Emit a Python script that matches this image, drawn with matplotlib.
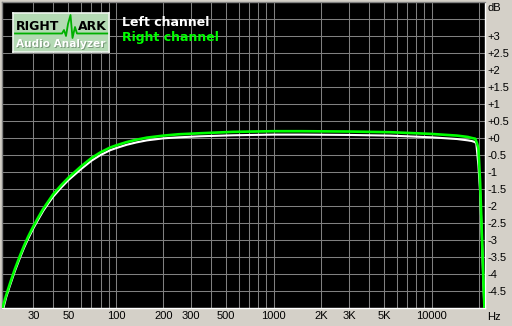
import matplotlib
matplotlib.use("Agg")
import matplotlib.pyplot as plt
import numpy as np

# ---- data ----
right_freq = [19.2, 20.2, 21.3, 22.9, 24.7, 26.2, 27.9, 30, 32.3, 34.7, 37, 40, 45, 50,
              60, 70, 80, 92, 100, 117, 135, 157, 200, 250, 343, 550, 1000, 1500, 3000,
              5500, 10000, 14500, 17000, 18000, 18900, 19400, 19800, 20300, 20800, 21300,
              21700]
right_db = [-4.97, -4.62, -4.29, -3.86, -3.46, -3.17, -2.89, -2.60, -2.33, -2.08, -1.89, -1.66,
            -1.39, -1.17, -0.84, -0.59, -0.42, -0.28, -0.22, -0.12, -0.05, 0.01, 0.07, 0.11,
            0.14, 0.18, 0.2, 0.2, 0.19, 0.17, 0.12, 0.07, 0.03, 0.0, -0.02, -0.16, -0.3,
            -1.3, -2.75, -4.2, -5.2]
left_freq = [19.4, 20.2, 21.3, 22.9, 24.7, 26.2, 27.9, 30, 32.3, 34.7, 37, 40, 45, 50,
             60, 70, 80, 92, 100, 117, 135, 157, 200, 250, 343, 550, 1000, 1500, 3000,
             5500, 10000, 14500, 17000, 18000, 18800, 19200, 19800, 20300, 20800, 21300,
             21700]
left_db = [-5.0, -4.68, -4.35, -3.92, -3.52, -3.23, -2.95, -2.66, -2.39, -2.14, -1.95, -1.73,
           -1.46, -1.24, -0.92, -0.67, -0.5, -0.36, -0.3, -0.2, -0.13, -0.07, -0.01, 0.02,
           0.05, 0.08, 0.1, 0.1, 0.09, 0.07, 0.02, -0.03, -0.07, -0.09, -0.12, -0.16, -0.8,
           -1.6, -2.85, -4.3, -5.2]

x_grid = [30, 40, 50, 60, 70, 80, 90, 100, 200, 300, 400, 500, 600, 700, 800, 900,
          1000, 2000, 3000, 4000, 5000, 6000, 7000, 8000, 9000, 10000, 20000]
x_tick_vals = [30, 50, 100, 200, 300, 500, 1000, 2000, 3000, 5000, 10000]
x_tick_labels = ["30", "50", "100", "200", "300", "500", "1000", "2K", "3K", "5K", "10000"]
y_tick_vals = [3, 2.5, 2, 1.5, 1, 0.5, 0, -0.5, -1, -1.5, -2, -2.5, -3, -3.5, -4, -4.5]
y_tick_labels = ["+3", "+2.5", "+2", "+1.5", "+1", "+0.5", "+0", "-0.5", "-1", "-1.5",
                 "-2", "-2.5", "-3", "-3.5", "-4", "-4.5"]
y_grid = [3.5, 3, 2.5, 2, 1.5, 1, 0.5, 0, -0.5, -1, -1.5, -2, -2.5, -3, -3.5, -4, -4.5]

W, H = 512, 326
BG = "#d4d0c8"

fig = plt.figure(figsize=(W / 100, H / 100), dpi=100, facecolor=BG)

def fx(x):
    return x / W

def fy(y):
    return 1 - y / H

x0, x1, y0, y1 = 2, 485, 2, 308
ax = fig.add_axes([fx(x0), fy(y1), (x1 - x0) / W, (y1 - y0) / H])
ax.set_facecolor("black")
ax.set_xscale("log")
ax.set_xlim(19, 21800)
ax.set_ylim(-5, 4)

for g in x_grid:
    ax.axvline(g, color="#808080", lw=0.75, zorder=1)
for g in y_grid:
    ax.axhline(g, color="#808080", lw=0.75, zorder=1)

ax.plot(left_freq, left_db, color="white", lw=1.5, zorder=3, solid_joinstyle="round")
ax.plot(right_freq, right_db, color="#00ff00", lw=1.9, zorder=4, solid_joinstyle="round")

ax.xaxis.set_minor_locator(matplotlib.ticker.NullLocator())
ax.set_xticks(x_tick_vals)
ax.set_xticklabels(x_tick_labels)
ax.set_yticks(y_tick_vals)
ax.set_yticklabels(y_tick_labels)
ax.yaxis.tick_right()
ax.tick_params(axis="both", length=0, labelsize=8, colors="black")
ax.tick_params(axis="x", pad=2)
ax.tick_params(axis="y", pad=1.5)
for lab in ax.get_xticklabels() + ax.get_yticklabels():
    lab.set_fontfamily("Liberation Sans")

for s in ["top", "left"]:
    ax.spines[s].set_color("#808080")
for s in ["bottom", "right"]:
    ax.spines[s].set_color("white")
for s in ax.spines.values():
    s.set_linewidth(1)

fig.text(fx(487), fy(8), "dB", fontsize=8, family="Liberation Sans", va="center", ha="left")
fig.text(fx(487), fy(317), "Hz", fontsize=8, family="Liberation Sans", va="center", ha="left")

# legend text
fig.text(fx(122), fy(22.5), "Left channel", color="white", fontsize=9, fontweight="bold",
         family="DejaVu Sans", va="center", ha="left", zorder=10)
fig.text(fx(122), fy(38), "Right channel", color="#00ff00", fontsize=9, fontweight="bold",
         family="DejaVu Sans", va="center", ha="left", zorder=10)

# logo
lx0, lx1, ly0, ly1 = 13, 109, 13, 52
lax = fig.add_axes([fx(lx0), fy(ly1), (lx1 - lx0) / W, (ly1 - ly0) / H], zorder=10)
lax.set_xlim(lx0, lx1)
lax.set_ylim(ly1, ly0)
lax.set_facecolor("#b4dab4")
for s in lax.spines.values():
    s.set_color("#eef5ee")
    s.set_linewidth(1.2)
lax.set_xticks([])
lax.set_yticks([])
zig_x = [15, 62, 64, 66, 68, 70.5, 72.5, 75, 77, 108]
zig_y = [33.5, 33.5, 30, 36, 24, 15, 38, 27, 33.5, 33.5]
lax.plot(zig_x, zig_y, color="#00b000", lw=1.3, zorder=2)
lax.text(16, 27, "RIGHT", fontsize=9, fontweight="bold", family="DejaVu Sans",
         color="black", va="center", ha="left", zorder=3)
lax.text(107, 27, "ARK", fontsize=9, fontweight="bold", family="DejaVu Sans",
         color="black", va="center", ha="right", zorder=3)
lax.text(61.5, 44.5, "Audio Analyzer", fontsize=7.6, fontweight="bold", family="DejaVu Sans",
         color="#7a9a7a", va="center", ha="center", zorder=3)
lax.text(61, 44, "Audio Analyzer", fontsize=7.6, fontweight="bold", family="DejaVu Sans",
         color="white", va="center", ha="center", zorder=4)

fig.savefig("out.png", dpi=100, facecolor=BG)
